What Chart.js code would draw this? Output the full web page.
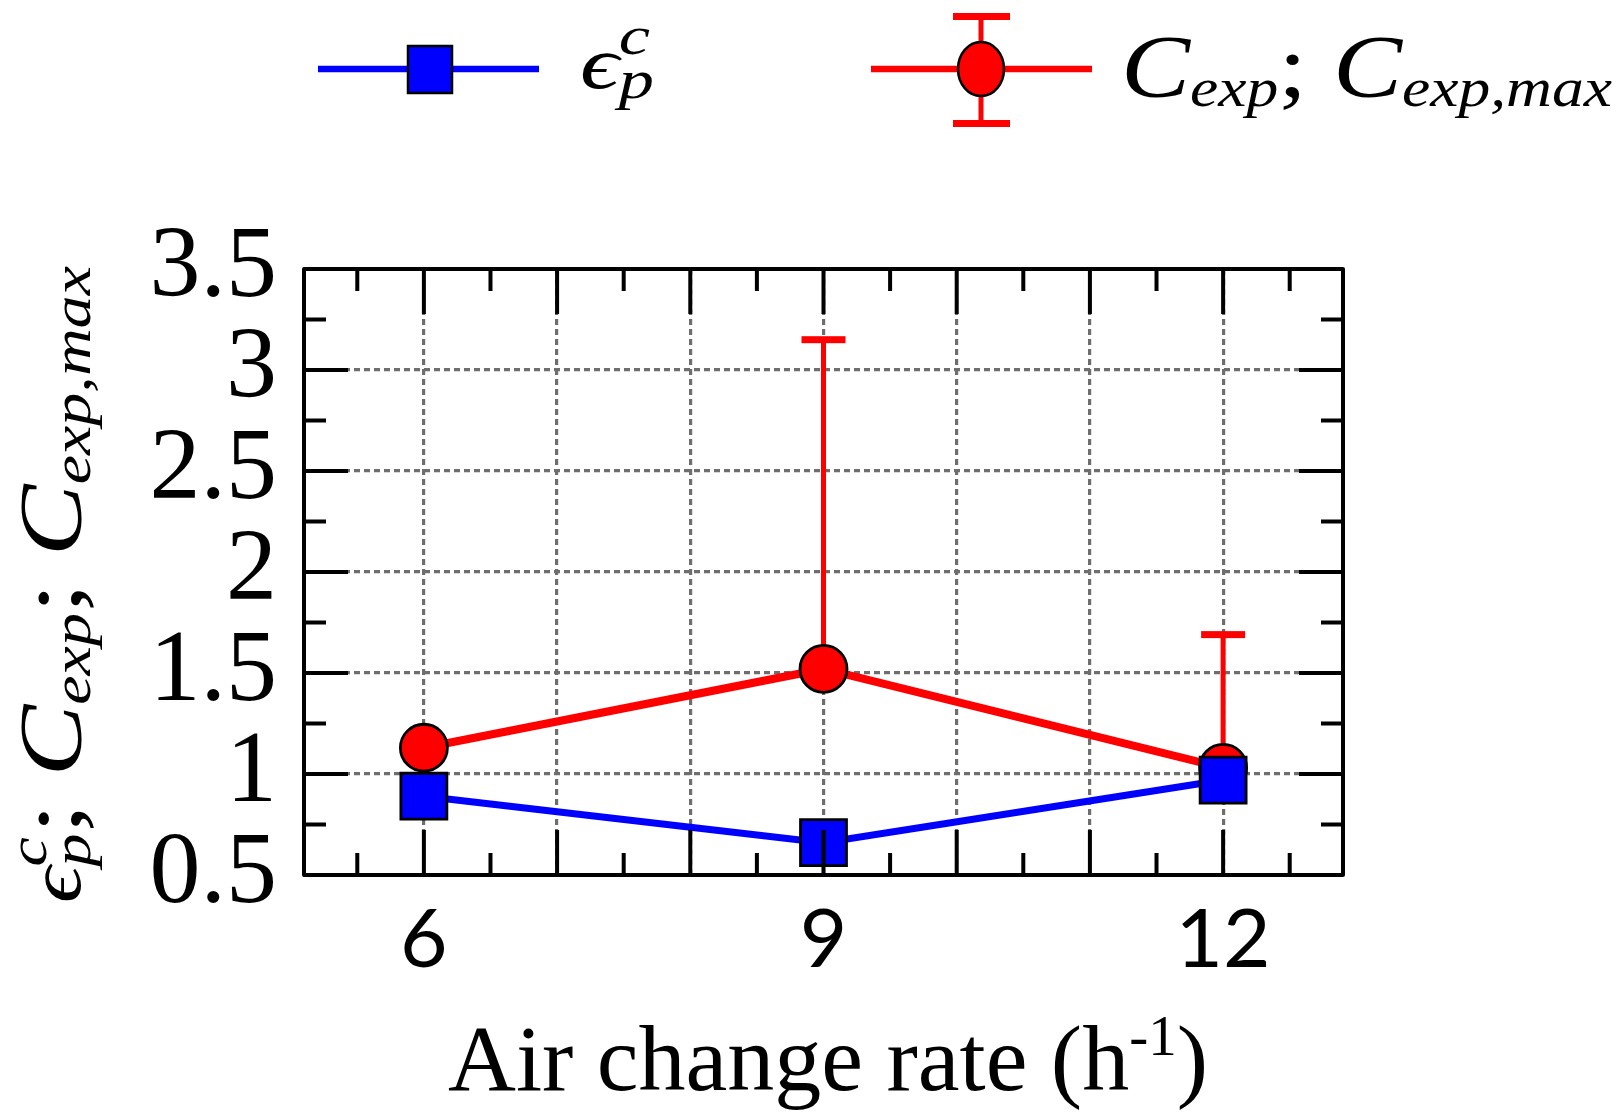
<!DOCTYPE html>
<html>
<head>
<meta charset="utf-8">
<script src="https://cdn.jsdelivr.net/npm/chart.js@4.4.1/dist/chart.umd.min.js"></script>
<style>
  html, body { margin: 0; padding: 0; background: #fff; }
</style>
</head>
<body>
<canvas id="chart" width="1620" height="1114"></canvas>
<script>
// air change rate (h-1)
const airChangeRates = [6, 9, 12];
// blue squares: epsilon_p^c
const epsilonPC = [0.89, 0.66, 0.97];
// red circles: C_exp, error bar tops: C_exp,max (none drawn at 6)
const cExp = [1.13, 1.52, 1.03];
const cExpMax = [null, 3.15, 1.69];

const xTickLabels = [6, 9, 12];
const yTickLabels = ['0.5', '1', '1.5', '2', '2.5', '3', '3.5'];
const xMajorTicks = [6, 7, 8, 9, 10, 11, 12];
const xMinorTicks = [5.5, 6.5, 7.5, 8.5, 9.5, 10.5, 11.5, 12.5];
const yMajorTicks = [1, 1.5, 2, 2.5, 3];
const yMinorTicks = [0.75, 1.25, 1.75, 2.25, 2.75, 3.25];

const BLUE = '#0000ff';
const RED = '#ff0000';
const MATH_FONT = '"Liberation Serif"';

function mathFont(size, italic) {
  return (italic ? 'italic ' : '') + size + 'px ' + MATH_FONT;
}

// draws a run of math-like text, returns the width
function drawRun(ctx, x, y, runs, sizes, measureOnly) {
  const x0 = x;
  for (const r of runs) {
    if (r.sub !== undefined || r.sup !== undefined) {
      ctx.font = mathFont(sizes.sub, true);
      let w = 0;
      if (r.sub) {
        if (!measureOnly) ctx.fillText(r.sub, x, y + sizes.subDy);
        w = Math.max(w, ctx.measureText(r.sub).width);
      }
      if (r.sup) {
        if (!measureOnly) ctx.fillText(r.sup, x, y - sizes.supDy);
        w = Math.max(w, ctx.measureText(r.sup).width);
      }
      x += w;
    } else {
      ctx.font = mathFont(sizes[r.size], r.italic);
      if (!measureOnly) ctx.fillText(r.t, x, y);
      x += ctx.measureText(r.t).width;
    }
  }
  return x - x0;
}

// fit a run into a given span by scaling horizontally
function drawRunFit(ctx, x, y, runs, sizes, span) {
  const w = drawRun(ctx, 0, 0, runs, sizes, true);
  ctx.save();
  ctx.translate(x, y);
  ctx.scale(span / w, 1);
  drawRun(ctx, 0, 0, runs, sizes, false);
  ctx.restore();
}

const mathSizes = { base: 88, eps: 74, sub: 54, subDy: 10, supDy: 34 };
const epsRun = [{ t: 'ϵ', size: 'eps', italic: true }, { sub: 'p', sup: 'c' }];
const cRun = [
  { t: 'C', size: 'base', italic: true }, { sub: 'exp' },
  { t: '; ', size: 'base', italic: false },
  { t: 'C', size: 'base', italic: true }, { sub: 'exp,max' }
];
const yTitleRun = epsRun.concat([{ t: '; ', size: 'base', italic: false }], cRun);

const errorBars = {
  id: 'errorBars',
  beforeDatasetsDraw(chart) {
    const { ctx, scales: { x, y } } = chart;
    ctx.save();
    ctx.strokeStyle = RED;
    ctx.fillStyle = RED;
    ctx.lineWidth = 5;
    airChangeRates.forEach((rate, i) => {
      if (cExpMax[i] == null) return;
      const px = x.getPixelForValue(rate);
      const y0 = y.getPixelForValue(cExp[i]);
      const y1 = y.getPixelForValue(cExpMax[i]);
      ctx.beginPath();
      ctx.moveTo(px, y0);
      ctx.lineTo(px, y1);
      ctx.stroke();
      ctx.fillRect(px - 22, y1 - 3.5, 44, 7);
    });
    ctx.restore();
  }
};

const frame = {
  id: 'frame',
  afterDatasetsDraw(chart) {
    const { ctx, chartArea: a, scales: { x, y } } = chart;
    ctx.save();
    ctx.strokeStyle = '#000';
    ctx.lineWidth = 4;
    ctx.lineCap = 'butt';
    ctx.beginPath();
    const vt = (vals, len) => vals.forEach(v => {
      const px = x.getPixelForValue(v);
      ctx.moveTo(px, a.bottom); ctx.lineTo(px, a.bottom - len);
      ctx.moveTo(px, a.top); ctx.lineTo(px, a.top + len);
    });
    const ht = (vals, len) => vals.forEach(v => {
      const py = y.getPixelForValue(v);
      ctx.moveTo(a.left, py); ctx.lineTo(a.left + len, py);
      ctx.moveTo(a.right, py); ctx.lineTo(a.right - len, py);
    });
    vt(xMajorTicks, 45); vt(xMinorTicks, 22);
    ht(yMajorTicks, 44); ht(yMinorTicks, 22);
    ctx.stroke();
    ctx.lineJoin = 'round';
    ctx.strokeRect(a.left, a.top, a.right - a.left, a.bottom - a.top);
    ctx.restore();
  }
};

const texts = {
  id: 'texts',
  afterDraw(chart) {
    const { ctx } = chart;
    ctx.save();
    ctx.fillStyle = '#000';
    ctx.textBaseline = 'alphabetic';
    ctx.textAlign = 'left';

    // legend: blue square entry
    ctx.strokeStyle = BLUE;
    ctx.lineWidth = 6.5;
    ctx.beginPath(); ctx.moveTo(318, 69); ctx.lineTo(539, 69); ctx.stroke();
    ctx.fillStyle = BLUE; ctx.strokeStyle = '#000'; ctx.lineWidth = 2.5;
    ctx.fillRect(408, 46, 44, 47); ctx.strokeRect(408, 46, 44, 47);
    ctx.fillStyle = '#000';
    drawRunFit(ctx, 580, 88, epsRun, mathSizes, 74);

    // legend: red circle with error bar
    ctx.strokeStyle = RED;
    ctx.lineWidth = 6.5;
    ctx.beginPath(); ctx.moveTo(871, 69); ctx.lineTo(1092, 69); ctx.stroke();
    ctx.lineWidth = 5;
    ctx.beginPath(); ctx.moveTo(981, 16); ctx.lineTo(981, 124); ctx.stroke();
    ctx.fillStyle = RED;
    ctx.fillRect(953, 13, 57, 7); ctx.fillRect(953, 120, 57, 7);
    ctx.beginPath(); ctx.ellipse(981, 69, 23, 27, 0, 0, Math.PI * 2);
    ctx.fill(); ctx.strokeStyle = '#000'; ctx.lineWidth = 2.5; ctx.stroke();
    ctx.fillStyle = '#000';
    drawRunFit(ctx, 1121, 96, cRun, mathSizes, 491);

    // y axis title (rotated)
    ctx.save();
    ctx.translate(80, 903);
    ctx.rotate(-Math.PI / 2);
    drawRunFit(ctx, 0, 0, yTitleRun, mathSizes, 637);
    ctx.restore();

    // x axis title with superscript
    const big = '94px "Liberation Serif"', small = '57px "Liberation Serif"';
    ctx.font = big;
    const w1 = ctx.measureText('Air change rate (h').width;
    const w3 = ctx.measureText(')').width;
    ctx.font = small;
    const w2 = ctx.measureText('-1').width;
    let tx = 828 - (w1 + w2 + w3) / 2;
    const base = 1090;
    ctx.font = big; ctx.fillText('Air change rate (h', tx, base); tx += w1;
    ctx.font = small; ctx.fillText('-1', tx, base - 35); tx += w2;
    ctx.font = big; ctx.fillText(')', tx, base);
    ctx.restore();
  }
};

new Chart(document.getElementById('chart'), {
  type: 'line',
  data: {
    datasets: [
      {
        label: 'epsilon_p^c',
        data: airChangeRates.map((r, i) => ({ x: r, y: epsilonPC[i] })),
        borderColor: BLUE,
        borderWidth: 7,
        pointStyle: 'rect',
        pointRadius: 32.5,
        pointBackgroundColor: BLUE,
        pointBorderColor: '#000',
        pointBorderWidth: 2.8,
        clip: false
      },
      {
        label: 'C_exp; C_exp,max',
        data: airChangeRates.map((r, i) => ({ x: r, y: cExp[i] })),
        borderColor: RED,
        borderWidth: 8,
        pointStyle: 'circle',
        pointRadius: 23.5,
        pointBackgroundColor: RED,
        pointBorderColor: '#000',
        pointBorderWidth: 2.8,
        clip: false
      }
    ]
  },
  options: {
    responsive: false,
    animation: false,
    events: [],
    layout: { padding: { top: 269, right: 277, left: 0, bottom: 0 } },
    plugins: { legend: { display: false }, tooltip: { enabled: false } },
    scales: {
      x: {
        type: 'linear',
        min: 5.1,
        max: 12.9,
        ticks: {
          stepSize: 1,
          includeBounds: false,
          autoSkip: false,
          maxRotation: 0,
          padding: 16,
          color: '#000',
          font: { family: 'Lato', size: 82 },
          callback: v => xTickLabels.includes(v) ? String(v) : ''
        },
        grid: { color: '#6e6e6e', lineWidth: 3.2, drawTicks: false, borderDash: [6, 4] },
        border: { display: false, dash: [6, 4] },
        afterFit: s => { s.height = 239; }
      },
      y: {
        min: 0.5,
        max: 3.5,
        ticks: {
          stepSize: 0.5,
          autoSkip: false,
          padding: 27,
          color: '#000',
          font: { family: 'Liberation Serif', size: 102, lineHeight: 1 },
          callback: (v, i) => yTickLabels[i]
        },
        grid: { color: '#6e6e6e', lineWidth: 3.2, drawTicks: false, borderDash: [6, 4] },
        border: { display: false, dash: [6, 4] },
        afterFit: s => { s.width = 304; }
      }
    }
  },
  plugins: [errorBars, frame, texts]
});
</script>
</body>
</html>
